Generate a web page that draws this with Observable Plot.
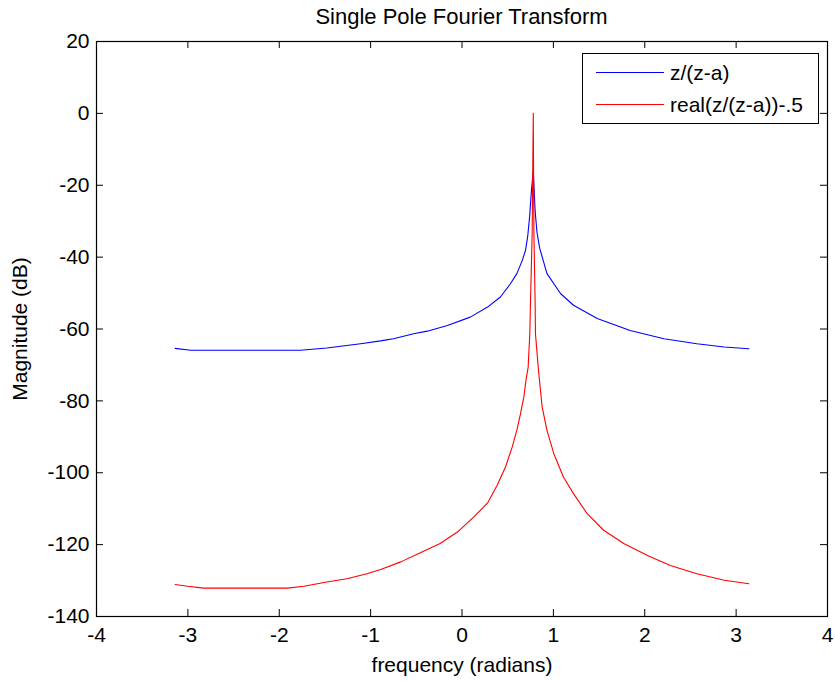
<!DOCTYPE html>
<html>
<head>
<meta charset="utf-8">
<script src="https://cdn.jsdelivr.net/npm/d3@7"></script>
<script src="https://cdn.jsdelivr.net/npm/@observablehq/plot@0.6"></script>
<style>
  html, body { margin: 0; padding: 0; background: #fff; }
  #wrap { position: relative; width: 835px; height: 681px; font-family: "Liberation Sans", Arial, sans-serif; color: #000; }
  #title { position: absolute; left: 96px; width: 731px; top: 4px; text-align: center; font-size: 22px; line-height: 26px; }
  #legend { position: absolute; left: 582px; top: 53px; width: 235px; height: 69px; border: 1px solid #000; background: #fff; font-size: 21px; }
  .row { position: absolute; left: 0; width: 100%; height: 24px; }
  .swatch { position: absolute; left: 13px; width: 68px; top: 11px; height: 0; border-top: 1px solid; }
  .lab { position: absolute; left: 87px; top: 0; line-height: 24px; white-space: nowrap; }
</style>
</head>
<body>
<div id="wrap"></div>
<script>
// ---- data ----
const titleText = "Single Pole Fourier Transform";
const xLabel = "frequency (radians)";
const yLabel = "Magnitude (dB)";
const xTicks = [-4, -3, -2, -1, 0, 1, 2, 3, 4];
const yTicks = [-140, -120, -100, -80, -60, -40, -20, 0, 20];
const seriesNames = ["z/(z-a)", "real(z/(z-a))-.5"];
const seriesColors = ["#0000ff", "#ff0000"];

const blueX = [-3.14, -2.97, -2.5, -2.0, -1.77, -1.48, -1.11, -0.89, -0.75, -0.53, -0.38, -0.16, 0.09, 0.28, 0.42, 0.53, 0.60, 0.66, 0.695, 0.72, 0.74, 0.76, 0.78, 0.80, 0.82, 0.85, 0.93, 1.08, 1.22, 1.48, 1.84, 2.21, 2.57, 2.87, 3.14];
const blueY = [-65.4, -65.9, -65.9, -65.9, -65.9, -65.3, -64.1, -63.3, -62.7, -61.3, -60.6, -59.0, -56.7, -53.9, -51.1, -47.4, -44.6, -40.9, -38.1, -34.0, -28.8, -21.4, -16.0, -27.0, -33.0, -37.5, -44.6, -50.2, -53.4, -57.1, -60.4, -62.7, -64.1, -65.0, -65.5];

const redX = [-3.14, -3.0, -2.83, -2.4, -1.91, -1.73, -1.48, -1.26, -1.04, -0.89, -0.67, -0.45, -0.24, -0.05, 0.13, 0.28, 0.385, 0.476, 0.55, 0.60, 0.64, 0.677, 0.70, 0.724, 0.742, 0.75, 0.768, 0.78, 0.787, 0.80, 0.804, 0.834, 0.848, 0.877, 0.93, 1.005, 1.11, 1.22, 1.37, 1.55, 1.77, 2.03, 2.28, 2.57, 2.87, 3.14];
const redY = [-131.1, -131.6, -132.1, -132.1, -132.1, -131.6, -130.4, -129.5, -128.1, -126.9, -124.8, -122.2, -119.7, -116.5, -112.3, -108.4, -103.5, -98.4, -92.8, -88.2, -83.6, -78.9, -74.3, -70.6, -61.3, -52.0, -33.4, 0.0, -33.4, -52.0, -61.3, -70.6, -74.3, -81.7, -88.2, -94.7, -101.2, -105.8, -111.4, -116.0, -119.7, -123.0, -125.8, -128.1, -129.9, -130.9];

// ---- build ----
const blue = blueX.map((x, i) => ({x, y: blueY[i]}));
const red = redX.map((x, i) => ({x, y: redY[i]}));

const W = 835, H = 681, mL = 96, mR = 8, mT = 41, mB = 65;
const plotW = W - mL - mR, plotH = H - mT - mB;
const tick = 7;

const chart = Plot.plot({
  width: W, height: H,
  marginLeft: mL, marginRight: mR, marginTop: mT, marginBottom: mB,
  style: {fontFamily: "'Liberation Sans', Arial, sans-serif", fontSize: "21px", color: "#000", background: "#fff", overflow: "visible"},
  x: {domain: [-4, 4]},
  y: {domain: [-140, 20]},
  marks: [
    Plot.ruleX(xTicks, {x: d => d, insetTop: plotH - tick, stroke: "#000"}),
    Plot.ruleX(xTicks, {x: d => d, insetBottom: plotH - tick, stroke: "#000"}),
    Plot.ruleY(yTicks, {y: d => d, insetRight: plotW - tick, stroke: "#000"}),
    Plot.ruleY(yTicks, {y: d => d, insetLeft: plotW - tick, stroke: "#000"}),
    Plot.line(blue, {x: "x", y: "y", stroke: seriesColors[0], strokeWidth: 1.1}),
    Plot.line(red, {x: "x", y: "y", stroke: seriesColors[1], strokeWidth: 1.1}),
    Plot.frame({stroke: "#000", strokeWidth: 1.2}),
    Plot.axisX(xTicks, {tickSize: 0, tickPadding: 11, tickFormat: d => String(d), label: xLabel, labelAnchor: "center", labelOffset: 55, labelArrow: "none"}),
    Plot.axisY(yTicks, {tickSize: 0, tickPadding: 7, tickFormat: d => String(d), label: yLabel, labelAnchor: "center", labelOffset: 84, labelArrow: "none"})
  ]
});

const wrap = document.getElementById("wrap");
wrap.appendChild(chart);

const t = document.createElement("div");
t.id = "title";
t.textContent = titleText;
wrap.appendChild(t);

const leg = document.createElement("div");
leg.id = "legend";
const rowTops = [7, 39];
seriesNames.forEach((name, i) => {
  const r = document.createElement("div");
  r.className = "row";
  r.style.top = rowTops[i] + "px";
  const s = document.createElement("div");
  s.className = "swatch";
  s.style.borderTopColor = seriesColors[i];
  const l = document.createElement("div");
  l.className = "lab";
  l.textContent = name;
  r.appendChild(s); r.appendChild(l);
  leg.appendChild(r);
});
wrap.appendChild(leg);
</script>
</body>
</html>
